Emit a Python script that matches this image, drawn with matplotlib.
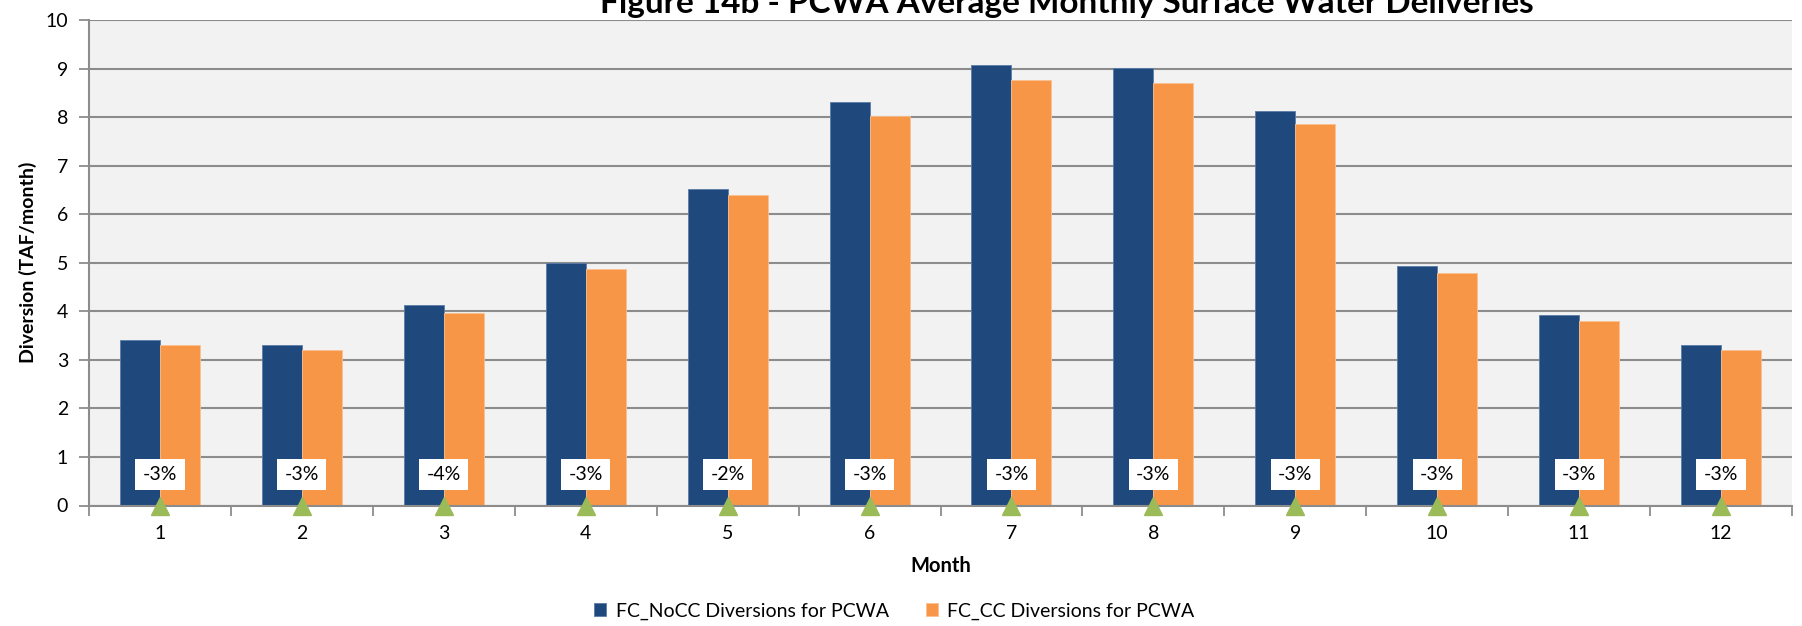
import matplotlib
matplotlib.use('Agg')
import matplotlib.pyplot as plt
import numpy as np

months = [1, 2, 3, 4, 5, 6, 7, 8, 9, 10, 11, 12]
nocc = [3.41, 3.30, 4.12, 5.00, 6.52, 8.32, 9.08, 9.02, 8.12, 4.93, 3.92, 3.30]
cc = [3.31, 3.21, 3.96, 4.87, 6.39, 8.03, 8.77, 8.70, 7.85, 4.78, 3.80, 3.21]
pct_labels = ['-3%', '-3%', '-4%', '-3%', '-2%', '-3%', '-3%', '-3%', '-3%', '-3%', '-3%', '-3%']

plt.rcParams['font.family'] = ['Lato', 'DejaVu Sans']

fig = plt.figure(figsize=(18.02, 6.26), dpi=100)
ax = fig.add_axes([89 / 1802, 1 - 505.5 / 626, (1792 - 89) / 1802, (505.5 - 20) / 626])
ax.set_facecolor('#F2F2F2')

x = np.arange(len(months))
w = 0.282
ax.bar(x - w / 2, nocc, w, color='#1F497D', edgecolor='#5A7BA8', linewidth=0.6,
       label='FC_NoCC Diversions for PCWA', zorder=3)
ax.bar(x + w / 2, cc, w, color='#F79646', edgecolor='#FAC090', linewidth=0.6,
       label='FC_CC Diversions for PCWA', zorder=3)

# green markers on the axis plus the percent change boxes
ax.plot(x, np.zeros(len(x)), '^', color='#9BBB59', markersize=13, clip_on=False, zorder=6)
for xi, lab in zip(x, pct_labels):
    ax.text(xi, 0.64, lab, ha='center', va='center', fontsize=14, zorder=5,
            bbox=dict(boxstyle='square,pad=0.38', facecolor='white', edgecolor='none'))

ax.set_xlim(-0.5, len(months) - 0.5)
ax.set_ylim(0, 10)
ax.set_yticks(range(0, 11))
ax.set_xticks(x)
ax.set_xticklabels([str(m) for m in months])
ax.set_xticks(np.arange(-0.5, len(months)), minor=True)
ax.tick_params(axis='x', which='major', length=0, labelsize=14, pad=14)
ax.tick_params(axis='x', which='minor', length=7, width=1.3, color='#8C8C8C', direction='out')
ax.tick_params(axis='y', length=7, width=1.3, color='#8C8C8C', labelsize=14, pad=8)

ax.yaxis.grid(True, color='#8C8C8C', linewidth=1.5, zorder=0)
ax.set_axisbelow(True)
for s in ['top', 'right']:
    ax.spines[s].set_visible(False)
for s in ['left', 'bottom']:
    ax.spines[s].set_color('#8C8C8C')
    ax.spines[s].set_linewidth(1.5)
    ax.spines[s].set_zorder(4)

ax.set_xlabel('Month', fontsize=14.5, fontweight='bold', labelpad=10)
ax.set_ylabel('Diversion (TAF/month)', fontsize=14, fontweight='bold', labelpad=6)

# title is partly cut off at the top in the original; fit it to its width there
title = fig.text(600 / 1802, 1 - 13 / 626,
                 'Figure 14b - PCWA Average Monthly Surface Water Deliveries',
                 ha='left', va='baseline', fontsize=21, fontweight='bold')
r = fig.canvas.get_renderer()
tw = title.get_window_extent(renderer=r).width
title.set_fontsize(21 * 933 / tw)

fig.legend(loc='center', bbox_to_anchor=(0.4964, 1 - 611 / 626), ncol=2, frameon=False,
           fontsize=14, handlelength=0.6, handleheight=0.6, columnspacing=1.9, handletextpad=0.5)

fig.savefig('out.png', dpi=100)
